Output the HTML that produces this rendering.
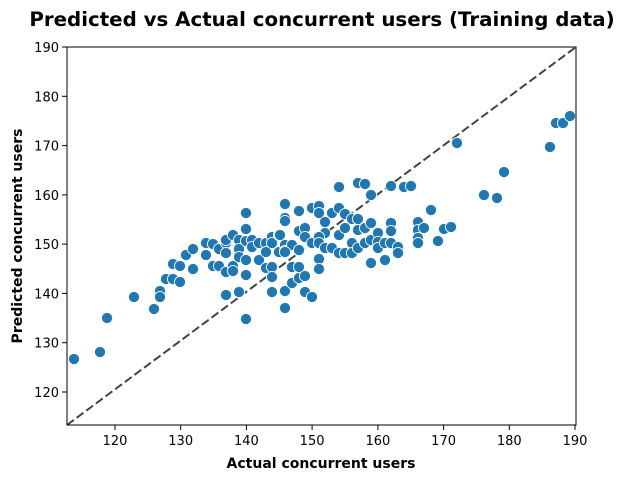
<!DOCTYPE html>
<html><head><meta charset="utf-8"><style>body{margin:0;background:#fff}</style></head><body>
<svg width="627" height="481" xmlns="http://www.w3.org/2000/svg" font-family="'DejaVu Sans','Liberation Sans',sans-serif">
<rect width="627" height="481" fill="#fff"/>
<text x="322" y="26" text-anchor="middle" font-size="19.8" font-weight="bold">Predicted vs Actual concurrent users (Training data)</text>
<line x1="67" y1="425" x2="576" y2="47" stroke="#444" stroke-width="2" stroke-dasharray="8.5,3.5"/>
<g fill="#1f77b4" stroke="#fff" stroke-width="0.9">
<circle cx="74" cy="359" r="5.6"/><circle cx="100" cy="352" r="5.6"/><circle cx="107" cy="318" r="5.6"/><circle cx="134" cy="297" r="5.6"/><circle cx="154" cy="309" r="5.6"/><circle cx="160" cy="291" r="5.6"/><circle cx="160" cy="297" r="5.6"/><circle cx="166" cy="279" r="5.6"/><circle cx="173" cy="279" r="5.6"/><circle cx="180" cy="282" r="5.6"/><circle cx="173" cy="264" r="5.6"/><circle cx="180" cy="266" r="5.6"/><circle cx="186" cy="255" r="5.6"/><circle cx="193" cy="249" r="5.6"/><circle cx="193" cy="269" r="5.6"/><circle cx="206" cy="243" r="5.6"/><circle cx="206" cy="255" r="5.6"/><circle cx="213" cy="244" r="5.6"/><circle cx="213" cy="266" r="5.6"/><circle cx="219" cy="266" r="5.6"/><circle cx="219" cy="249" r="5.6"/><circle cx="226" cy="243" r="5.6"/><circle cx="226" cy="253" r="5.6"/><circle cx="226" cy="240" r="5.6"/><circle cx="226" cy="272" r="5.6"/><circle cx="226" cy="295" r="5.6"/><circle cx="233" cy="235" r="5.6"/><circle cx="233" cy="266" r="5.6"/><circle cx="233" cy="271" r="5.6"/><circle cx="239" cy="240" r="5.6"/><circle cx="239" cy="249" r="5.6"/><circle cx="239" cy="257" r="5.6"/><circle cx="239" cy="292" r="5.6"/><circle cx="246" cy="213" r="5.6"/><circle cx="246" cy="229" r="5.6"/><circle cx="246" cy="241" r="5.6"/><circle cx="246" cy="260" r="5.6"/><circle cx="246" cy="275" r="5.6"/><circle cx="246" cy="319" r="5.6"/><circle cx="252" cy="240" r="5.6"/><circle cx="252" cy="247" r="5.6"/><circle cx="259" cy="243" r="5.6"/><circle cx="259" cy="260" r="5.6"/><circle cx="266" cy="243" r="5.6"/><circle cx="266" cy="252" r="5.6"/><circle cx="266" cy="268" r="5.6"/><circle cx="272" cy="237" r="5.6"/><circle cx="272" cy="243" r="5.6"/><circle cx="272" cy="267" r="5.6"/><circle cx="272" cy="277" r="5.6"/><circle cx="272" cy="292" r="5.6"/><circle cx="279" cy="235" r="5.6"/><circle cx="279" cy="252" r="5.6"/><circle cx="285" cy="204" r="5.6"/><circle cx="285" cy="218" r="5.6"/><circle cx="285" cy="221" r="5.6"/><circle cx="285" cy="245" r="5.6"/><circle cx="285" cy="251" r="5.6"/><circle cx="285" cy="291" r="5.6"/><circle cx="285" cy="308" r="5.6"/><circle cx="292" cy="245" r="5.6"/><circle cx="292" cy="267" r="5.6"/><circle cx="292" cy="283" r="5.6"/><circle cx="299" cy="211" r="5.6"/><circle cx="299" cy="231" r="5.6"/><circle cx="299" cy="250" r="5.6"/><circle cx="299" cy="267" r="5.6"/><circle cx="299" cy="278" r="5.6"/><circle cx="305" cy="228" r="5.6"/><circle cx="305" cy="237" r="5.6"/><circle cx="305" cy="276" r="5.6"/><circle cx="305" cy="292" r="5.6"/><circle cx="312" cy="297" r="5.6"/><circle cx="312" cy="208" r="5.6"/><circle cx="312" cy="243" r="5.6"/><circle cx="280" cy="235" r="5.6"/><circle cx="285" cy="252" r="5.6"/><circle cx="319" cy="206" r="5.6"/><circle cx="319" cy="213" r="5.6"/><circle cx="325" cy="222" r="5.6"/><circle cx="332" cy="213" r="5.6"/><circle cx="325" cy="233" r="5.6"/><circle cx="319" cy="237" r="5.6"/><circle cx="319" cy="243" r="5.6"/><circle cx="325" cy="248" r="5.6"/><circle cx="332" cy="248" r="5.6"/><circle cx="319" cy="259" r="5.6"/><circle cx="319" cy="269" r="5.6"/><circle cx="339" cy="187" r="5.6"/><circle cx="339" cy="208" r="5.6"/><circle cx="345" cy="214" r="5.6"/><circle cx="339" cy="235" r="5.6"/><circle cx="345" cy="228" r="5.6"/><circle cx="352" cy="219" r="5.6"/><circle cx="358" cy="219" r="5.6"/><circle cx="352" cy="243" r="5.6"/><circle cx="339" cy="253" r="5.6"/><circle cx="345" cy="253" r="5.6"/><circle cx="352" cy="253" r="5.6"/><circle cx="358" cy="248" r="5.6"/><circle cx="358" cy="230" r="5.6"/><circle cx="365" cy="228" r="5.6"/><circle cx="365" cy="243" r="5.6"/><circle cx="358" cy="183" r="5.6"/><circle cx="365" cy="184" r="5.6"/><circle cx="371" cy="195" r="5.6"/><circle cx="371" cy="223" r="5.6"/><circle cx="371" cy="240" r="5.6"/><circle cx="371" cy="263" r="5.6"/><circle cx="378" cy="233" r="5.6"/><circle cx="378" cy="242" r="5.6"/><circle cx="378" cy="248" r="5.6"/><circle cx="385" cy="243" r="5.6"/><circle cx="385" cy="260" r="5.6"/><circle cx="391" cy="223" r="5.6"/><circle cx="391" cy="231" r="5.6"/><circle cx="391" cy="243" r="5.6"/><circle cx="398" cy="247" r="5.6"/><circle cx="398" cy="253" r="5.6"/><circle cx="391" cy="186" r="5.6"/><circle cx="404" cy="187" r="5.6"/><circle cx="411" cy="186" r="5.6"/><circle cx="418" cy="222" r="5.6"/><circle cx="418" cy="230" r="5.6"/><circle cx="418" cy="238" r="5.6"/><circle cx="418" cy="243" r="5.6"/><circle cx="424" cy="228" r="5.6"/><circle cx="431" cy="210" r="5.6"/><circle cx="438" cy="241" r="5.6"/><circle cx="444" cy="229" r="5.6"/><circle cx="451" cy="227" r="5.6"/><circle cx="457" cy="143" r="5.6"/><circle cx="484" cy="195" r="5.6"/><circle cx="497" cy="198" r="5.6"/><circle cx="504" cy="172" r="5.6"/><circle cx="550" cy="147" r="5.6"/><circle cx="556" cy="123" r="5.6"/><circle cx="563" cy="123" r="5.6"/><circle cx="570" cy="116" r="5.6"/>
</g>
<rect x="67" y="47" width="509" height="378" fill="none" stroke="#000" stroke-width="1"/>
<g stroke="#000" stroke-width="1">
<line x1="115" y1="425" x2="115" y2="430"/><line x1="180.7" y1="425" x2="180.7" y2="430"/><line x1="246.4" y1="425" x2="246.4" y2="430"/><line x1="312.1" y1="425" x2="312.1" y2="430"/><line x1="377.9" y1="425" x2="377.9" y2="430"/><line x1="443.6" y1="425" x2="443.6" y2="430"/><line x1="509.3" y1="425" x2="509.3" y2="430"/><line x1="575" y1="425" x2="575" y2="430"/>
<line x1="62" y1="392" x2="67" y2="392"/><line x1="62" y1="342.7" x2="67" y2="342.7"/><line x1="62" y1="293.4" x2="67" y2="293.4"/><line x1="62" y1="244.1" x2="67" y2="244.1"/><line x1="62" y1="194.9" x2="67" y2="194.9"/><line x1="62" y1="145.6" x2="67" y2="145.6"/><line x1="62" y1="96.3" x2="67" y2="96.3"/><line x1="62" y1="47" x2="67" y2="47"/>
</g>
<g font-size="13" text-anchor="middle">
<text x="115" y="445">120</text><text x="180.7" y="445">130</text><text x="246.4" y="445">140</text><text x="312.1" y="445">150</text><text x="377.9" y="445">160</text><text x="443.6" y="445">170</text><text x="509.3" y="445">180</text><text x="575" y="445">190</text>
</g>
<g font-size="13" text-anchor="end">
<text x="59" y="397">120</text><text x="59" y="347.7">130</text><text x="59" y="298.4">140</text><text x="59" y="249.1">150</text><text x="59" y="199.9">160</text><text x="59" y="150.6">170</text><text x="59" y="101.3">180</text><text x="59" y="52">190</text>
</g>
<text x="321" y="468" text-anchor="middle" font-size="14" font-weight="bold">Actual concurrent users</text>
<text transform="translate(22,236) rotate(-90)" text-anchor="middle" font-size="14" font-weight="bold">Predicted concurrent users</text>
</svg>
</body></html>
